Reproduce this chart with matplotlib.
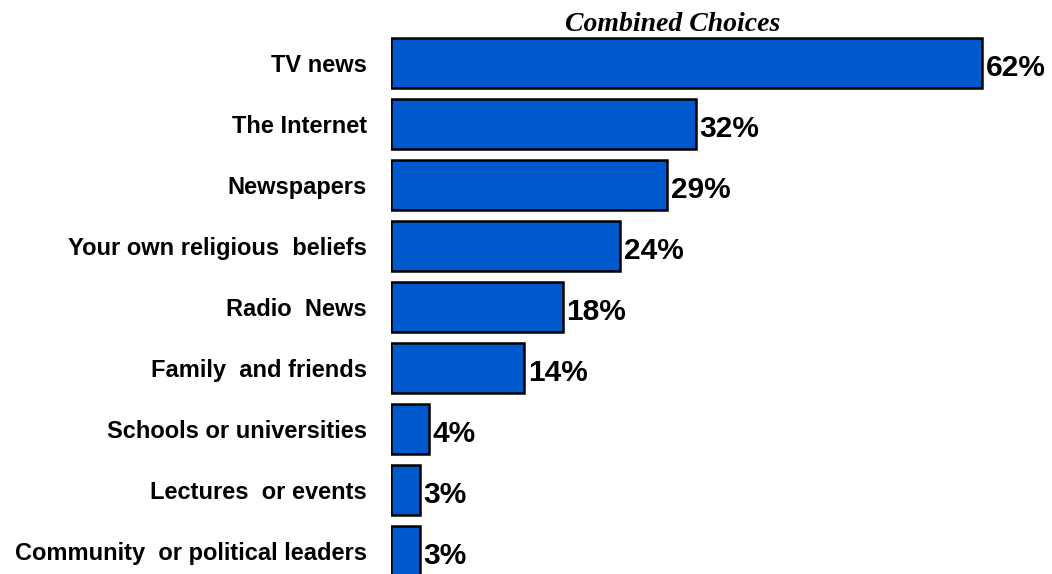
import numpy as np
import matplotlib.pyplot as plt

categories = ["TV news", "The Internet", "Newspapers", "Your own religious  beliefs",
              "Radio  News", "Family  and friends", "Schools or universities",
              "Lectures  or events", "Community  or political leaders"]
values = [62, 32, 29, 24, 18, 14, 4, 3, 3]

fig = plt.figure(figsize=(10.52, 5.74), dpi=100)
ax = fig.add_axes([0.3717, 0, 0.634, 1])

y = np.arange(len(categories))
ax.barh(y, values, height=0.83, color="#0059CC", edgecolor="black", linewidth=1.8)

for yi, v in zip(y, values):
    ax.text(v + 0.4, yi + 0.08, f"{v}%", va="center", ha="left", fontsize=21.5,
            fontweight="bold", family="Liberation Sans")

ax.set_xlim(0, 70)
ax.set_ylim(8.377, -1.033)
ax.set_yticks(y)
ax.set_yticklabels(categories, fontsize=17, fontweight="bold", family="Liberation Sans")
ax.tick_params(axis="y", length=0, pad=17.5)
ax.set_xticks([])
for s in ax.spines.values():
    s.set_visible(False)

fig.text(0.639, 0.957, "Combined Choices", ha="center", va="center", fontsize=20,
         fontweight="bold", fontstyle="italic", family="Liberation Serif")

fig.savefig("out.png", dpi=100)
